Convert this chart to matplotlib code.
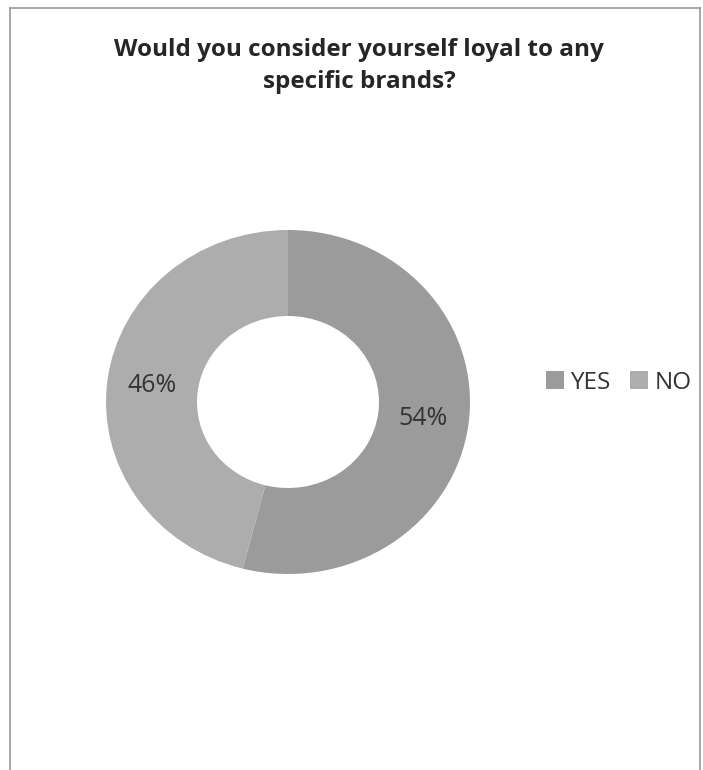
import matplotlib.pyplot as plt
from matplotlib.lines import Line2D

labels = ['YES', 'NO']
shares = [54, 46]
colors = ['#9b9b9b', '#adadad']

plt.rcParams['font.family'] = ['Open Sans', 'DejaVu Sans']

fig = plt.figure(figsize=(7.03, 7.70), dpi=100)
fig.patch.set_facecolor('white')

# chart frame (left, top, right edges)
W, H = 703, 770
frame = dict(color='#9a9a9a', lw=1.2)
fig.add_artist(Line2D([10 / W, 10 / W], [0, 1 - 8 / H], **frame))
fig.add_artist(Line2D([10 / W, 700 / W], [1 - 8 / H, 1 - 8 / H], **frame))
fig.add_artist(Line2D([700 / W, 700 / W], [0, 1 - 8 / H], **frame))

fig.text(359 / W, 1 - 66 / H, 'Would you consider yourself loyal to any\nspecific brands?',
         ha='center', va='center', fontsize=17.5, fontweight='bold',
         color='#262626', linespacing=1.5)

# donut
cx, cy, rx, ry = 288, 402, 182, 172
ax = fig.add_axes([(cx - rx) / W, 1 - (cy + ry) / H, 2 * rx / W, 2 * ry / H])
wedges, texts, autotexts = ax.pie(
    shares, colors=colors, startangle=90, counterclock=False,
    wedgeprops=dict(width=0.5, edgecolor='none'),
    autopct='%d%%', pctdistance=0.75,
    textprops=dict(fontsize=18, color='#333333'))
ax.set_aspect('auto')
ax.set_xlim(-1, 1)
ax.set_ylim(-1, 1)

ax.legend(wedges, labels, loc='center left', bbox_to_anchor=(1.21, 0.556),
          ncol=2, frameon=False, handlelength=0.74, handleheight=0.74,
          handletextpad=0.25, columnspacing=0.8, fontsize=17.5,
          labelcolor='#333333', borderpad=0, borderaxespad=0)

fig.savefig('out.png', dpi=100, facecolor='white')
